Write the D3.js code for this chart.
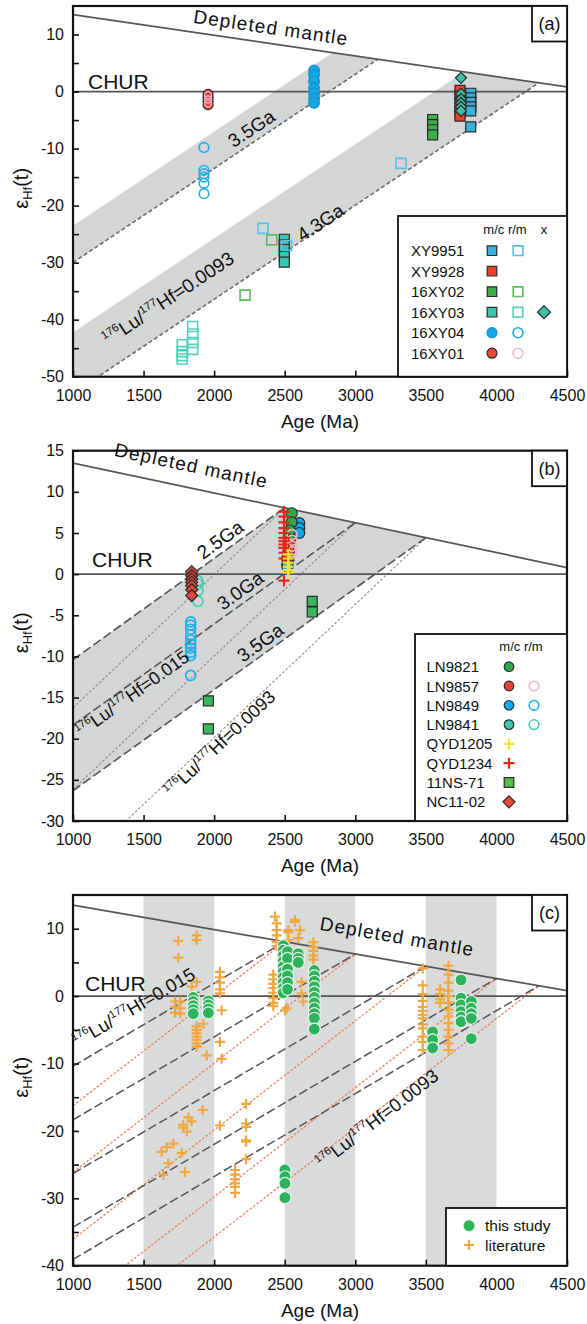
<!DOCTYPE html>
<html><head><meta charset="utf-8">
<script src="https://cdn.jsdelivr.net/npm/d3@7"></script>
<style>
body{margin:0;background:#fff;}
svg{display:block;font-family:Arial,"Liberation Sans",Helvetica,sans-serif;}
</style></head><body>
<svg id="fig" width="587" height="1324"></svg>
<script>
// ---------------- shared axes ----------------
const ageDomain = [1000, 4500];
const ageTicks = [1000, 1500, 2000, 2500, 3000, 3500, 4000, 4500];

// depleted mantle εHf at 1000 Ma and 4500 Ma (linear reference)
const dmEnds = [13.5, 0.8];
// εHf slopes (per Ma) of crustal evolution lines
const slopeLuHf015 = 0.0123;   // 176Lu/177Hf = 0.015
const slopeLuHf0093 = 0.0162;  // 176Lu/177Hf = 0.0093
const slopeBandA = 0.0165;

// ---------------- panel (a) ----------------
const bandsA = [[2840, 3160], [3770, 4300]];        // [upper edge, dashed edge] model ages
const ticksA = [-50, -40, -30, -20, -10, 0, 10];
const minorA = [-45, -35, -25, -15, -5, 5];
const xy9951_mc = [[3818,-0.3],[3818,-1.1],[3818,-1.9],[3818,-2.7],[3818,-3.4],[3818,-6.2]];
const xy9951_rm = [[2347,-24.0],[2514,-27.0],[3324,-12.6]];
const xy9928_mc = [[3742,0.2],[3742,-0.8],[3742,-1.8],[3742,-2.8],[3742,-3.7],[3742,-4.3]];
const xy02_mc = [[3548,-4.9],[3548,-5.8],[3548,-6.7],[3548,-7.6]];
const xy02_rm = [[2408,-26.0],[2219,-35.7]];
const xy03_mc = [[2497,-25.9],[2497,-26.9],[2497,-27.7],[2497,-28.9],[2497,-29.9]];
const xy03_rm = [[1774,-44.4],[1774,-45.6],[1774,-46.3],[1774,-46.9],[1848,-41.2],[1848,-42.5],[1848,-44.0],[1848,-45.2]];
const xy03_x = [[3749,2.4],[3749,-0.4],[3749,-1.3],[3749,-2.0],[3749,-2.7],[3749,-3.4]];
const xy04_mc = [[2708,3.7],[2708,2.9],[2708,1.8],[2708,0.6],[2708,-0.3],[2708,-1.2],[2708,-2.0]];
const xy04_rm = [[1928,-9.8],[1928,-13.8],[1928,-14.4],[1928,-15.0],[1928,-16.1],[1928,-17.9]];
const xy01_mc = [[1957,-0.5],[1957,-1.1],[1957,-1.7],[1957,-2.3]];
const xy01_rm = [[1957,-0.7],[1957,-1.4],[1957,-2.1]];

// ---------------- panel (b) ----------------
const tdmB = [2500, 3000, 3500];
const ticksB = [-30, -25, -20, -15, -10, -5, 0, 5, 10, 15];
const ln9821_mc = [[2549,7.4],[2549,6.3],[2536,5.3],[2536,4.1],[2526,2.7],[2526,1.7]];
const ln9857_mc = [[2530,3.6],[2530,2.8],[2518,1.9],[2518,1.1]];
const ln9857_rm = [[2552,4.8],[2552,4.1],[2552,3.4],[2552,2.7]];
const ln9849_mc = [[2603,6.2],[2603,5.6],[2603,5.0]];
const ln9849_rm = [[1834,-5.8],[1834,-6.2],[1834,-6.7],[1834,-7.4],[1834,-8.0],[1834,-8.5],[1834,-9.0],[1834,-9.5],[1834,-9.9],[1834,-12.3]];
const ln9841_mc = [[2520,0.9]];
const ln9841_rm = [[1886,-0.8],[1886,-1.2],[1886,-2.0],[1886,-3.3]];
const qyd1205 = [[2525,2.4],[2525,1.9],[2525,1.4],[2525,0.9],[2525,0.5],[2525,0.2]];
const qyd1234 = [[2495,7.6],[2495,7.0],[2495,6.3],[2495,5.6],[2495,5.0],[2495,4.4],[2495,4.0],[2495,3.6],[2495,3.2],[2495,2.6],[2495,1.9],[2495,-0.8]];
const ns71 = [[1959,-15.4],[1959,-18.8],[2695,-3.3],[2695,-4.6]];
const nc1102 = [[1841,0.3],[1841,-0.2],[1841,-0.6],[1841,-1.0],[1841,-1.4],[1841,-1.9],[1841,-2.6]];

// ---------------- panel (c) ----------------
const tdmC = [2500, 3000, 3500, 4000, 4300];
const ageBandsC = [[1500, 2000], [2500, 3000], [3500, 4000]];
const ticksC = [-40, -30, -20, -10, 0, 10];
const minorC = [-35, -25, -15, -5, 5];
const thisStudy = [
  [1852,-0.2],[1852,-0.8],[1852,-1.4],[1852,-2.0],[1852,-2.6],
  [1959,-0.7],[1959,-1.3],[1959,-1.9],[1959,-2.5],
  [2490,7.5],[2490,6.8],[2490,6.0],[2490,5.2],[2490,4.4],[2490,3.6],[2490,2.8],[2490,2.0],[2490,1.2],[2490,0.5],
  [2520,6.6],[2520,5.6],[2520,4.0],[2520,3.0],[2520,2.0],[2520,1.0],
  [2596,6.3],[2596,5.6],[2596,5.0],
  [2710,3.8],[2710,3.0],[2710,2.2],[2710,1.4],[2710,0.6],[2710,-0.2],[2710,-1.0],[2710,-1.8],[2710,-2.6],[2710,-3.3],[2710,-4.9],
  [2502,-25.8],[2502,-26.8],[2502,-27.8],[2502,-29.9],
  [3548,-5.3],[3548,-6.5],[3548,-7.7],
  [3749,2.4],[3749,-0.3],[3749,-1.3],[3749,-2.3],[3749,-3.1],[3749,-3.8],
  [3822,-0.8],[3822,-1.8],[3822,-2.6],[3822,-3.3],[3822,-6.3]
];
const literature = [
  [1746,8.2],[1746,5.7],[1876,9.0],[1876,8.3],
  [1723,-0.8],[1723,-1.6],[1723,-2.5],[1760,-0.8],[1760,-1.8],[1760,-2.6],
  [1841,1.4],[1876,2.1],[1876,-4.5],[1876,-5.0],[1876,-5.5],[1876,-6.0],[1876,-6.5],[1876,-7.0],[1876,-7.5],
  [1923,-4.1],[1947,-8.8],
  [2041,3.6],[2041,2.8],[2041,2.0],[2041,1.0],[2041,0.4],[2041,-6.8],[2053,-2.1],[2053,-9.3],
  [1919,-16.9],[1817,-18.0],[1841,-18.6],[1781,-19.1],[1781,-19.5],[1806,-20.1],[2041,-19.2],
  [2226,-16.0],[2226,-18.9],[2226,-19.4],[2226,-21.4],[2226,-21.6],[2226,-24.2],
  [1711,-21.9],[1664,-22.4],[1628,-23.1],[1770,-23.3],[1675,-24.8],[1640,-26.5],[1793,-26.1],
  [2148,-25.8],[2148,-26.5],[2148,-27.2],[2148,-27.8],[2148,-28.3],[2148,-29.2],
  [2431,11.8],[2443,10.8],[2443,9.8],[2443,9.0],[2443,8.0],[2443,7.4],
  [2419,3.2],[2419,2.5],[2419,1.8],[2419,1.2],[2419,0.5],[2419,-0.3],[2419,-1.0],[2419,-1.5],
  [2502,-2.1],[2526,9.8],[2526,8.3],[2526,9.5],[2573,11.0],[2573,11.3],[2608,9.8],[2596,8.6],
  [2620,2.1],[2620,0.4],[2632,-0.8],[2514,-1.8],
  [2703,8.0],[2703,7.3],[2703,6.7],[2703,6.0],[2703,5.4],
  [3478,4.1],[3478,1.6],[3478,0.3],[3478,-0.7],[3478,-1.6],[3478,-2.2],[3478,-2.8],[3478,-3.3],[3478,-4.2],[3478,-4.8],[3478,-6.0],[3478,-6.8],[3478,-8.0],
  [3600,1.0],[3600,0.3],[3600,-0.5],[3600,-1.0],
  [3660,4.5],[3660,3.2],[3660,2.0],[3660,0.8],[3660,0.0],[3660,-1.0],[3660,-2.0],[3660,-3.0],[3660,-4.0],[3660,-5.0],[3660,-6.0],[3660,-7.0],[3660,-8.0]
];

// ---------------- helpers ----------------
const svg = d3.select("#fig");
const defs = svg.append("defs");
const L = 73, R = 567;
const INK = "#111", LINE = "#555";

function dm(t) { return dmEnds[0] + (t - 1000) * (dmEnds[1] - dmEnds[0]) / (ageDomain[1] - ageDomain[0]); }
function evo(T, k) { return t => dm(T) - k * (T - t); }

function makePanel(key, top, bottom, yDomain) {
  const x = d3.scaleLinear().domain(ageDomain).range([L, R]);
  const y = d3.scaleLinear().domain(yDomain).range([bottom, top]);
  defs.append("clipPath").attr("id", "clip-" + key).append("rect")
    .attr("x", L).attr("y", top).attr("width", R - L).attr("height", bottom - top);
  const g = svg.append("g");
  const plot = g.append("g").attr("clip-path", `url(#clip-${key})`);
  const line = d3.line().x(d => x(d[0])).y(d => y(d[1]));
  return { key, x, y, g, plot, line, top, bottom };
}

function evoLine(p, T, k, stroke, dash, width) {
  const f = evo(T, k);
  p.plot.append("path").attr("d", p.line([[1000, f(1000)], [T, dm(T)]]))
    .attr("fill", "none").attr("stroke", stroke).attr("stroke-width", width).attr("stroke-dasharray", dash);
}

function band(p, T1, k1, T2, k2, fill) {
  const f1 = evo(T1, k1), f2 = evo(T2, k2);
  p.plot.append("path").attr("d", p.line([[1000, f1(1000)], [T1, dm(T1)], [T2, dm(T2)], [1000, f2(1000)]]) + "Z")
    .attr("fill", fill).attr("stroke", "none");
}

function refLines(p) {
  p.plot.append("path").attr("d", p.line([[1000, dm(1000)], [4500, dm(4500)]]))
    .attr("stroke", LINE).attr("stroke-width", 1.7).attr("fill", "none");
  p.plot.append("path").attr("d", p.line([[1000, 0], [4500, 0]]))
    .attr("stroke", LINE).attr("stroke-width", 1.7).attr("fill", "none");
}

function marker(sel, shape, size) {
  const s = size;
  if (shape === "circle") return sel.append("circle").attr("r", s);
  let d;
  if (shape === "square") d = `M${-s},${-s}H${s}V${s}H${-s}Z`;
  else if (shape === "diamond") d = `M0,${-s}L${s},0L0,${s}L${-s},0Z`;
  else d = `M${-s},0H${s}M0,${-s}V${s}`;
  return sel.append("path").attr("d", d);
}

function points(p, data, shape, size, style) {
  data.forEach(d => {
    const m = marker(p.plot.append("g").attr("transform", `translate(${p.x(d[0])},${p.y(d[1])})`), shape, size);
    m.attr("fill", style.fill || "none").attr("stroke", style.stroke || "none")
     .attr("stroke-width", style.sw || 1.2);
  });
}

function axes(p, major, minor, showTop) {
  const ax = p.g.append("g").attr("transform", `translate(0,${p.bottom})`)
    .call(d3.axisBottom(p.x).tickValues(ageTicks).tickSizeInner(-6).tickSizeOuter(0).tickPadding(13).tickFormat(d => String(d)));
  const ay = p.g.append("g").attr("transform", `translate(${L},0)`)
    .call(d3.axisLeft(p.y).tickValues(major).tickSizeInner(-6).tickSizeOuter(0).tickPadding(9).tickFormat(d => String(d)));
  if (minor) {
    const am = p.g.append("g").attr("transform", `translate(${L},0)`)
      .call(d3.axisLeft(p.y).tickValues(minor).tickSizeInner(-6).tickSizeOuter(0).tickFormat(""));
    am.select(".domain").remove();
    am.selectAll("line").attr("stroke", INK).attr("stroke-width", 1.6);
  }
  [ax, ay].forEach(a => {
    a.select(".domain").remove();
    a.selectAll("line").attr("stroke", INK).attr("stroke-width", 1.6);
    a.selectAll("text").attr("fill", INK).style("font-size", "16px")
      .style("font-family", "Arial, 'Liberation Sans', sans-serif");
  });
  p.g.append("rect").attr("x", L).attr("y", p.top).attr("width", R - L).attr("height", p.bottom - p.top)
    .attr("fill", "none").attr("stroke", INK).attr("stroke-width", 2.2);
  // axis titles
  p.g.append("text").attr("x", (L + R) / 2).attr("y", p.bottom + 51).attr("text-anchor", "middle")
    .style("font-size", "19px").attr("fill", INK).text("Age (Ma)");
  const cy = (p.top + p.bottom) / 2 - 3;
  const t = p.g.append("text").attr("transform", `translate(28,${cy}) rotate(-90)`)
    .attr("text-anchor", "middle").style("font-size", "20px").attr("fill", INK);
  t.append("tspan").text("\u03b5");
  t.append("tspan").style("font-size", "13px").attr("dy", 4).text("Hf");
  t.append("tspan").attr("dy", -4).text("(t)");
}

function panelTag(p, label) {
  p.g.append("rect").attr("x", 532).attr("y", p.top).attr("width", R - 532).attr("height", 35.5)
    .attr("fill", "#fff").attr("stroke", INK).attr("stroke-width", 1.8);
  p.g.append("text").attr("x", (532 + R) / 2).attr("y", p.top + 24).attr("text-anchor", "middle")
    .style("font-size", "18px").attr("fill", INK).text(label);
}

function rotText(p, cx, cy, angle, txt, size, spacing) {
  return p.g.append("text").attr("transform", `translate(${cx},${cy}) rotate(${-angle})`)
    .attr("text-anchor", "middle").style("font-size", size + "px")
    .style("letter-spacing", (spacing || 0) + "px").attr("fill", INK).text(txt);
}

function luhfText(p, cx, cy, angle, value, size) {
  const t = p.g.append("text").attr("transform", `translate(${cx},${cy}) rotate(${-angle})`)
    .attr("text-anchor", "middle").style("font-size", size + "px").attr("fill", INK);
  const sup = size * 0.6, up = size * 0.42;
  t.append("tspan").style("font-size", sup + "px").attr("dy", -up).text("176");
  t.append("tspan").attr("dy", up).text("Lu/");
  t.append("tspan").style("font-size", sup + "px").attr("dy", -up).text("177");
  t.append("tspan").attr("dy", up).text("Hf=" + value);
}

function angleOf(p, k) {
  const dx = p.x(2000) - p.x(1000), dy = p.y(0) - p.y(k * 1000);
  return Math.atan2(dy, dx) * 180 / Math.PI;
}

function legendBox(g, x0, y0, x1, y1) {
  g.append("rect").attr("x", x0).attr("y", y0).attr("width", x1 - x0).attr("height", y1 - y0)
    .attr("fill", "#fff").attr("stroke", INK).attr("stroke-width", 1.8);
}

function legendMark(g, cx, cy, shape, size, style) {
  const m = marker(g.append("g").attr("transform", `translate(${cx},${cy})`), shape, size);
  m.attr("fill", style.fill || "none").attr("stroke", style.stroke || "none").attr("stroke-width", style.sw || 1.2);
}

// ---------------- styles ----------------
const dk = "#2a2a2a";
const C = {
  xy9951: { fill: "#3bb1d8", stroke: dk }, xy9951o: { stroke: "#55c1ea", sw: 1.6 },
  xy9928: { fill: "#e8412c", stroke: dk },
  xy02: { fill: "#3fae48", stroke: dk }, xy02o: { stroke: "#58c05a", sw: 1.6 },
  xy03: { fill: "#3cc5ae", stroke: dk }, xy03o: { stroke: "#4fd2bb", sw: 1.6 }, xy03x: { fill: "#3cbfa2", stroke: dk },
  xy04: { fill: "#10a8e8", stroke: "#1b8fc4" }, xy04o: { stroke: "#1eaeee", sw: 1.6 },
  xy01: { fill: "#e8483a", stroke: dk }, xy01o: { stroke: "#f4b6c0", sw: 1.4 },
  ln9821: { fill: "#2ea84e", stroke: dk },
  ln9857: { fill: "#e8463a", stroke: dk }, ln9857o: { stroke: "#f4b6c0", sw: 1.6 },
  ln9849: { fill: "#0ba8ec", stroke: dk }, ln9849o: { stroke: "#1aaeec", sw: 1.6 },
  ln9841: { fill: "#3cc8b0", stroke: dk }, ln9841o: { stroke: "#3fd0b8", sw: 1.6 },
  qyd1205: { stroke: "#f2e234", sw: 2.2 }, qyd1234: { stroke: "#e0261a", sw: 2.2 },
  ns71: { fill: "#37b85a", stroke: dk }, nc1102: { fill: "#e8463a", stroke: dk },
  study: { fill: "#2db35c", stroke: "#e6f4ea", sw: 1.2 }, lit: { stroke: "#f0a843", sw: 2.2 }
};
const BAND = "#d4d5d5";

// ================= panel (a) =================
const pa = makePanel("a", 6, 376.7, [-50, 15]);
bandsA.forEach(b => band(pa, b[0], slopeBandA, b[1], slopeBandA, BAND));
bandsA.forEach(b => evoLine(pa, b[1], slopeBandA, "#6a6a6a", "4,2.5", 1.6));
refLines(pa);
points(pa, xy01_mc, "circle", 5, C.xy01);
points(pa, xy01_rm, "circle", 3.5, C.xy01o);
points(pa, xy04_rm, "circle", 4.8, C.xy04o);
points(pa, xy04_mc, "circle", 5.3, C.xy04);
points(pa, xy03_rm, "square", 5, C.xy03o);
points(pa, xy02_rm, "square", 5, C.xy02o);
points(pa, xy03_mc, "square", 5, C.xy03);
points(pa, xy9951_rm, "square", 5, C.xy9951o);
points(pa, xy02_mc, "square", 5, C.xy02);
points(pa, xy9928_mc, "square", 5, C.xy9928);
points(pa, xy9951_mc, "square", 5, C.xy9951);
points(pa, xy03_x, "diamond", 5.5, C.xy03x);
axes(pa, ticksA, minorA);
const angDMa = Math.atan2(pa.y(dm(1000)) - pa.y(dm(4500)), R - L) * -180 / Math.PI;
rotText(pa, 270, 34, -angDMa, "Depleted mantle", 19, 1.2);
pa.g.append("text").attr("x", 88).attr("y", 89).style("font-size", "21px").attr("fill", INK).text("CHUR");
const angA = angleOf(pa, slopeBandA);
rotText(pa, 255, 134, angA, "3.5Ga", 19);
rotText(pa, 324, 228, angA, "4.3Ga", 19);
luhfText(pa, 172, 304, angA, "0.0093", 19);
panelTag(pa, "(a)");
// legend (a)
{
  const g = pa.g;
  legendBox(g, 398, 216, R, 376.7);
  g.append("text").attr("x", 505).attr("y", 234).attr("text-anchor", "middle").style("font-size", "13px").attr("fill", INK).text("m/c r/m");
  g.append("text").attr("x", 544).attr("y", 234).attr("text-anchor", "middle").style("font-size", "13px").attr("fill", INK).text("x");
  const rows = [
    ["XY9951", ["square", C.xy9951], ["square", C.xy9951o], null],
    ["XY9928", ["square", C.xy9928], null, null],
    ["16XY02", ["square", C.xy02], ["square", C.xy02o], null],
    ["16XY03", ["square", C.xy03], ["square", C.xy03o], ["diamond", C.xy03x]],
    ["16XY04", ["circle", C.xy04], ["circle", C.xy04o], null],
    ["16XY01", ["circle", C.xy01], ["circle", C.xy01o], null]
  ];
  rows.forEach((r, i) => {
    const cy = 250.7 + i * 20.5;
    g.append("text").attr("x", 411).attr("y", cy + 5.5).style("font-size", "15px").attr("fill", INK).text(r[0]);
    [[r[1], 492], [r[2], 518], [r[3], 544]].forEach(([m, cx]) => {
      if (!m) return;
      const size = m[0] === "circle" ? 5 : m[0] === "diamond" ? 6.5 : 4.8;
      legendMark(g, cx, cy, m[0], size, m[1]);
    });
  });
}

// ================= panel (b) =================
const pb = makePanel("b", 450.7, 821, [-30, 15]);
band(pb, tdmB[0], slopeLuHf015, tdmB[2], slopeLuHf015, BAND);
tdmB.forEach(T => evoLine(pb, T, slopeLuHf0093, "#8a8a8a", "2.5,2", 1.1));
tdmB.forEach(T => evoLine(pb, T, slopeLuHf015, "#555", "9,3.5", 1.6));
refLines(pb);
points(pb, ln9849_rm, "circle", 5, C.ln9849o);
points(pb, ln9841_rm, "circle", 5, C.ln9841o);
points(pb, nc1102, "diamond", 6, C.nc1102);
points(pb, ln9849_mc, "circle", 5.5, C.ln9849);
points(pb, ln9821_mc, "circle", 5.5, C.ln9821);
points(pb, ln9857_mc, "circle", 5.5, C.ln9857);
points(pb, ln9841_mc, "circle", 5.5, C.ln9841);
points(pb, ln9857_rm, "circle", 5, C.ln9857o);
points(pb, qyd1234, "cross", 5.5, C.qyd1234);
points(pb, qyd1205, "cross", 5.5, C.qyd1205);
points(pb, ns71, "square", 5, C.ns71);
axes(pb, ticksB, null);
const angDMb = Math.atan2(pb.y(dm(4500)) - pb.y(dm(1000)), R - L) * 180 / Math.PI;
rotText(pb, 190, 472, -angDMb, "Depleted mantle", 19, 1.2);
pb.g.append("text").attr("x", 92).attr("y", 567).style("font-size", "21px").attr("fill", INK).text("CHUR");
const angB = angleOf(pb, slopeLuHf015);
rotText(pb, 224, 545, angB, "2.5Ga", 19);
rotText(pb, 244, 596, angB, "3.0Ga", 19);
rotText(pb, 264, 648, angB, "3.5Ga", 19);
luhfText(pb, 136, 699, angB, "0.015", 18);
luhfText(pb, 224, 748, angleOf(pb, slopeLuHf0093), "0.0093", 18);
panelTag(pb, "(b)");
{
  const g = pb.g;
  legendBox(g, 415, 634, R, 821);
  g.append("text").attr("x", 521).attr("y", 651).attr("text-anchor", "middle").style("font-size", "13px").attr("fill", INK).text("m/c r/m");
  const rows = [
    ["LN9821", ["circle", C.ln9821], null],
    ["LN9857", ["circle", C.ln9857], ["circle", C.ln9857o]],
    ["LN9849", ["circle", C.ln9849], ["circle", C.ln9849o]],
    ["LN9841", ["circle", C.ln9841], ["circle", C.ln9841o]],
    ["QYD1205", ["cross", C.qyd1205], null],
    ["QYD1234", ["cross", C.qyd1234], null],
    ["11NS-71", ["square", { fill: "#55bb4a", stroke: dk }], null],
    ["NC11-02", ["diamond", C.nc1102], null]
  ];
  rows.forEach((r, i) => {
    const cy = 666.7 + i * 19.3;
    g.append("text").attr("x", 426.5).attr("y", cy + 5.5).style("font-size", "15px").attr("fill", INK).text(r[0]);
    [[r[1], 509], [r[2], 534]].forEach(([m, cx]) => {
      if (!m) return;
      const size = m[0] === "diamond" ? 6 : m[0] === "cross" ? 5.5 : 4.8;
      legendMark(g, cx, cy, m[0], size, m[1]);
    });
  });
}

// ================= panel (c) =================
const pc = makePanel("c", 895, 1265.7, [-40, 15]);
ageBandsC.forEach(b => pc.plot.append("rect").attr("x", pc.x(b[0])).attr("y", pc.top)
  .attr("width", pc.x(b[1]) - pc.x(b[0])).attr("height", pc.bottom - pc.top).attr("fill", "#d9dada"));
tdmC.forEach(T => evoLine(pc, T, slopeLuHf0093, "#ee7f5e", "2.5,1.8", 1.3));
tdmC.forEach(T => evoLine(pc, T, slopeLuHf015, "#555", "9,3.5", 1.5));
refLines(pc);
points(pc, literature, "cross", 5, C.lit);
points(pc, thisStudy, "circle", 6, C.study);
axes(pc, ticksC, minorC);
const angDMc = Math.atan2(pc.y(dm(4500)) - pc.y(dm(1000)), R - L) * 180 / Math.PI;
rotText(pc, 396, 943, -angDMc, "Depleted mantle", 19, 1.2);
pc.g.append("text").attr("x", 85).attr("y", 991).style("font-size", "21px").attr("fill", INK).text("CHUR");
luhfText(pc, 137, 1013, angleOf(pc, slopeLuHf015), "0.015", 18.5);
luhfText(pc, 381, 1124, angleOf(pc, slopeLuHf0093), "0.0093", 18.5);
panelTag(pc, "(c)");
{
  const g = pc.g;
  legendBox(g, 446, 1208, R, 1265.7);
  legendMark(g, 469, 1225.7, "circle", 6, { fill: "#2db35c", stroke: "#e6f4ea", sw: 1.2 });
  legendMark(g, 469, 1245, "cross", 5, C.lit);
  g.append("text").attr("x", 485).attr("y", 1231).style("font-size", "15.5px").attr("fill", INK).text("this study");
  g.append("text").attr("x", 485).attr("y", 1250.5).style("font-size", "15.5px").attr("fill", INK).text("literature");
}
</script>
</body></html>
